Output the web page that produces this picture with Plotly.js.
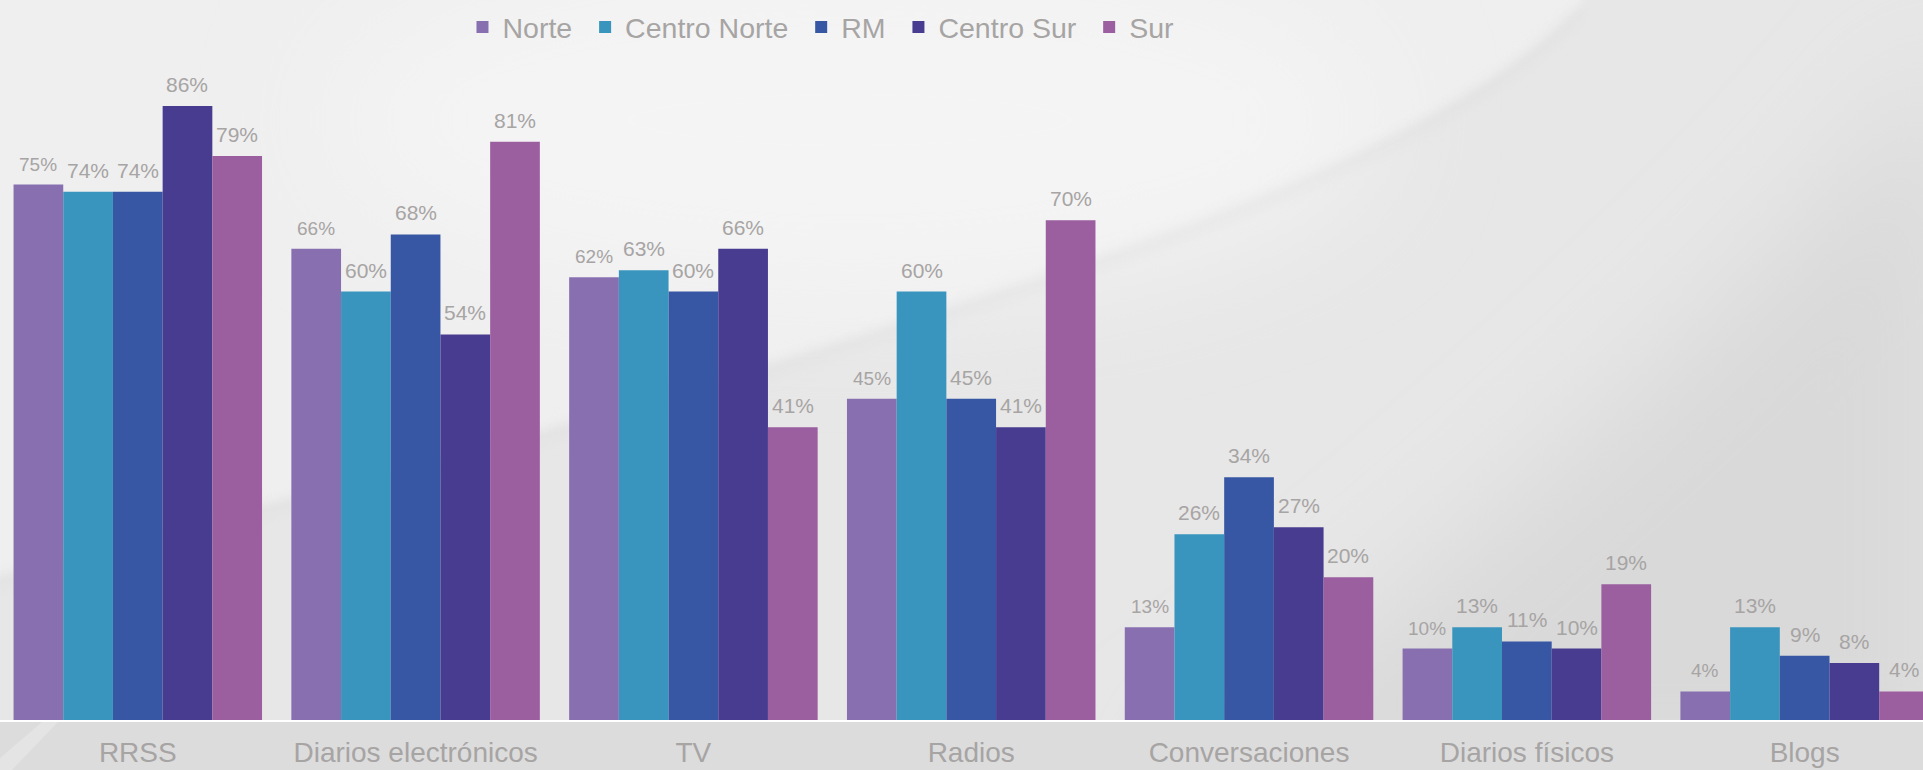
<!DOCTYPE html>
<html>
<head>
<meta charset="utf-8">
<script src="https://cdn.plot.ly/plotly-3.0.1.min.js"></script>
<style>
  html, body { margin: 0; padding: 0; width: 1923px; height: 770px; overflow: hidden; background: #eaeaea; }
  #bg { position: absolute; left: 0; top: 0; width: 1923px; height: 770px; z-index: 0; }
  #chart { position: absolute; left: 0; top: 0; width: 1923px; height: 770px; z-index: 1; }
</style>
</head>
<body>
<div id="bg">
<svg width="1923" height="770" xmlns="http://www.w3.org/2000/svg">
  <defs>
    <filter id="b1" x="-20%" y="-20%" width="140%" height="140%"><feGaussianBlur stdDeviation="4"/></filter>
    <filter id="b2" x="-50%" y="-50%" width="200%" height="200%"><feGaussianBlur stdDeviation="60"/></filter>
    <filter id="b3" x="-50%" y="-50%" width="200%" height="200%"><feGaussianBlur stdDeviation="8"/></filter>
  </defs>
  <rect x="0" y="0" width="1923" height="770" fill="#e7e7e7"/>
  <path d="M-30,-30 L1600,-30 L1580,0 C1450,140 1150,240 800,350 S250,500 -30,580 Z" fill="#efefef" filter="url(#b1)"/>
  <ellipse cx="850" cy="120" rx="520" ry="170" fill="#f4f4f4" filter="url(#b2)"/>
  <path d="M1580,0 C1450,140 1150,240 800,350 S250,500 -30,580" fill="none" stroke="#dedede" stroke-width="10" opacity="0.6" transform="translate(0,10)" filter="url(#b3)"/>
  <path d="M1580,0 C1450,140 1150,240 800,350 S250,500 -30,580" fill="none" stroke="#f6f6f6" stroke-width="3" opacity="0.8" filter="url(#b1)"/>
  <path d="M1960,40 C1800,260 1500,520 1150,800 L1960,800 Z" fill="#d9d9d9" filter="url(#b2)"/>
  <rect x="0" y="722" width="1923" height="48" fill="#dcdcdc"/>
  <path d="M0,770 L0,758 L42,722 L58,722 L12,770 Z" fill="#e4e4e4"/>
</svg>
</div>
<div id="chart"></div>
<script>
// ---- Data ----
const categories = ['RRSS', 'Diarios electrónicos', 'TV', 'Radios', 'Conversaciones', 'Diarios físicos', 'Blogs'];
const seriesNames = ['Norte', 'Centro Norte', 'RM', 'Centro Sur', 'Sur'];
const norte       = [75, 66, 62, 45, 13, 10, 4];
const centroNorte = [74, 60, 63, 60, 26, 13, 13];
const rm          = [74, 68, 60, 45, 34, 11, 9];
const centroSur   = [86, 54, 66, 41, 27, 10, 8];
const sur         = [79, 81, 41, 70, 20, 19, 4];

// ---- Style ----
const seriesValues = [norte, centroNorte, rm, centroSur, sur];
const colors = ['#8870b0', '#3995bd', '#3757a4', '#483c91', '#9b5e9f'];
const labelSizes = [19, 21, 21, 21, 21];
const textColor = '#a7a4a4';
const fontFamily = '"Liberation Sans", Arial, Helvetica, sans-serif';
const bargap = 0.1055;
const legendPad = '\u00a0'; // small trailing space so legend entries sit as far apart as in the original

const traces = seriesNames.map((name, s) => ({
  type: 'bar',
  name: name + legendPad,
  x: categories,
  y: seriesValues[s],
  marker: { color: colors[s], line: { width: 0 } },
  hovertemplate: name + ': %{y}%<extra>%{x}</extra>'
}));

const nSeries = seriesNames.length;
const barW = (1 - bargap) / nSeries;
const annotations = [];
seriesValues.forEach((vals, s) => {
  vals.forEach((v, j) => {
    annotations.push({
      xref: 'x', yref: 'y',
      x: j + (s - (nSeries - 1) / 2) * barW,
      y: v,
      text: v + '%',
      showarrow: false,
      xanchor: 'center', yanchor: 'bottom',
      yshift: 8,
      font: { family: fontFamily, size: labelSizes[s], color: textColor }
    });
  });
});

const layout = {
  width: 1923, height: 770,
  margin: { l: 0, r: 0, t: 6, b: 50, pad: 0 },
  paper_bgcolor: 'rgba(0,0,0,0)',
  plot_bgcolor: 'rgba(0,0,0,0)',
  barmode: 'group',
  bargap: bargap,
  bargroupgap: 0,
  font: { family: fontFamily, color: textColor },
  showlegend: true,
  legend: {
    orientation: 'h',
    x: 0.2405, xanchor: 'left',
    y: 0.97, yanchor: 'middle',
    bgcolor: 'rgba(0,0,0,0)',
    borderwidth: 0,
    font: { family: fontFamily, size: 28.5, color: textColor },
    traceorder: 'normal'
  },
  xaxis: {
    type: 'category',
    range: [-0.496, 6.426],
    showgrid: false,
    zeroline: false,
    showline: true,
    linecolor: '#ffffff',
    linewidth: 2,
    ticks: '',
    ticklabelstandoff: 6,
    automargin: false,
    tickfont: { family: fontFamily, size: 28, color: textColor },
    fixedrange: true
  },
  yaxis: {
    range: [0, 100],
    visible: false,
    showgrid: false,
    zeroline: false,
    automargin: false,
    fixedrange: true
  },
  annotations: annotations
};

Plotly.newPlot('chart', traces, layout, { displayModeBar: false, staticPlot: false });
</script>
</body>
</html>
